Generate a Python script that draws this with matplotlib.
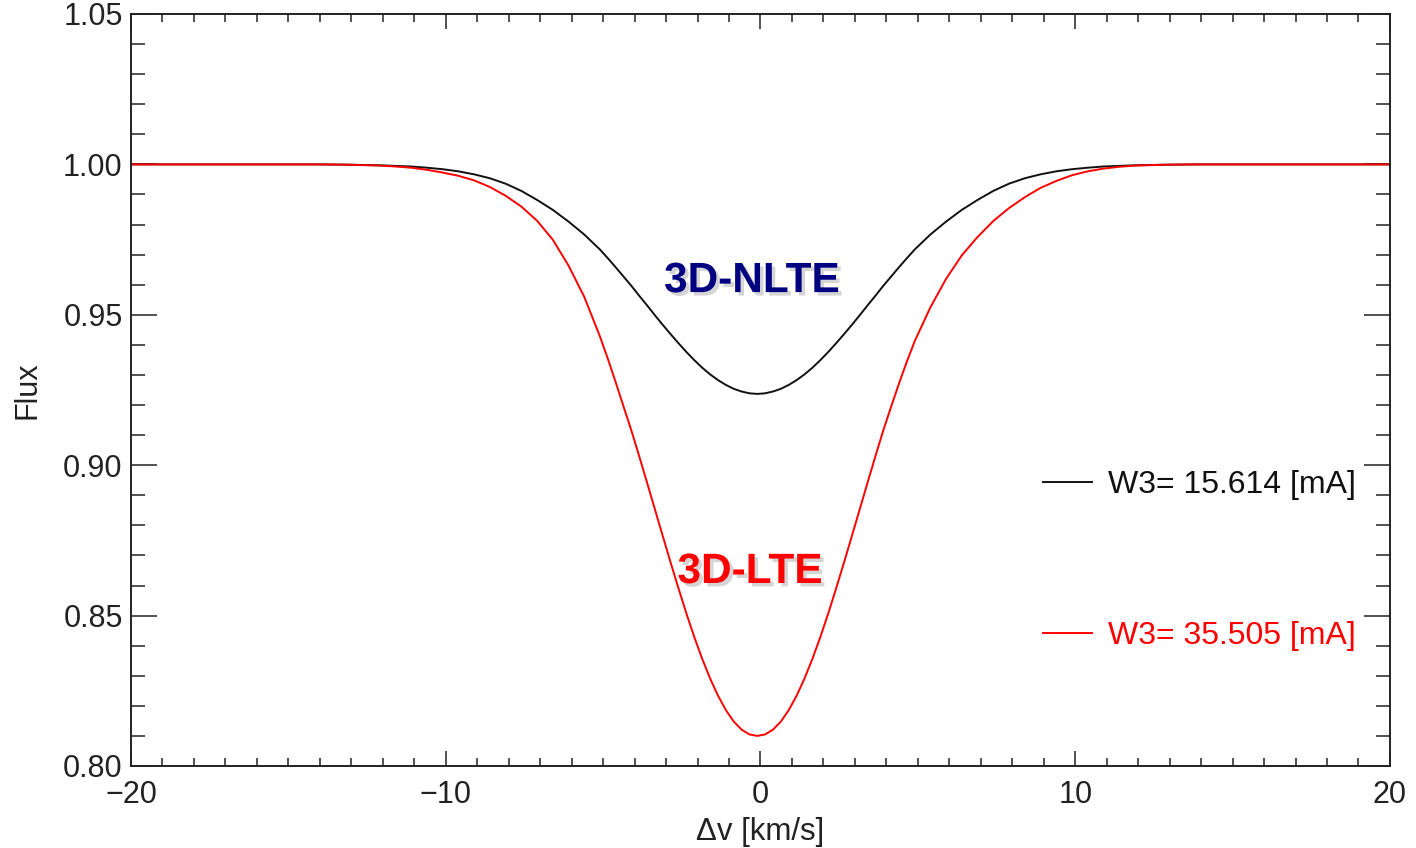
import numpy as np
import matplotlib.pyplot as plt
import matplotlib as mpl
import matplotlib.patheffects as pe

mpl.rcParams['font.family'] = ['Liberation Sans', 'DejaVu Sans']
mpl.rcParams['axes.unicode_minus'] = True

# velocity grid (km/s), line centre at about -0.1
dv = [-20, -14.1, -13.1, -12.1, -11.6, -11.1, -10.6, -10.1, -9.6, -9.1, -8.6, -8.1,
      -7.6, -7.1, -6.6, -6.1, -5.6, -5.1, -4.85, -4.6, -4.35, -4.1, -3.85, -3.6,
      -3.35, -3.1, -2.85, -2.6, -2.35, -2.1, -1.85, -1.6, -1.35, -1.1, -0.85, -0.6,
      -0.35, -0.1, 0.15, 0.4, 0.65, 0.9, 1.15, 1.4, 1.65, 1.9, 2.15, 2.4, 2.65, 2.9,
      3.15, 3.4, 3.65, 3.9, 4.15, 4.4, 4.65, 4.9, 5.4, 5.9, 6.4, 6.9, 7.4, 7.9, 8.4,
      8.9, 9.4, 9.9, 10.4, 10.9, 11.4, 11.9, 12.9, 13.9, 20]

# 3D-NLTE profile (black)
flux_nlte = [1.0, 1.0, 0.9999, 0.9997, 0.9995, 0.9993, 0.9989, 0.9984, 0.9977, 0.9967,
             0.9954, 0.9936, 0.9912, 0.9882, 0.9849, 0.9810, 0.9767, 0.9717, 0.9688,
             0.9658, 0.9627, 0.9596, 0.9563, 0.9531, 0.9498, 0.9466, 0.9435, 0.9405,
             0.9376, 0.9349, 0.9324, 0.9302, 0.9283, 0.9267, 0.9254, 0.9245, 0.9239,
             0.9237,
             0.9239, 0.9245, 0.9254, 0.9267, 0.9283, 0.9302, 0.9324, 0.9349, 0.9376,
             0.9405, 0.9435, 0.9466, 0.9498, 0.9531, 0.9563, 0.9596, 0.9627, 0.9658,
             0.9688, 0.9717, 0.9767, 0.9810, 0.9849, 0.9882, 0.9912, 0.9936, 0.9954,
             0.9967, 0.9977, 0.9984, 0.9989, 0.9993, 0.9995, 0.9997, 0.9999, 1.0, 1.0]

# 3D-LTE profile (red)
flux_lte = [1.0, 1.0, 0.9999, 0.9996, 0.9993, 0.9989, 0.9982, 0.9973, 0.9962, 0.9947,
            0.9925, 0.9896, 0.9860, 0.9813, 0.9750, 0.9664, 0.9560, 0.9428, 0.9354,
            0.9276, 0.9195, 0.9115, 0.9029, 0.8941, 0.8852, 0.8763, 0.8675, 0.8589,
            0.8506, 0.8428, 0.8356, 0.8291, 0.8234, 0.8186, 0.8148, 0.8121, 0.8105,
            0.8100,
            0.8105, 0.8121, 0.8148, 0.8186, 0.8234, 0.8291, 0.8356, 0.8428, 0.8506,
            0.8589, 0.8675, 0.8763, 0.8852, 0.8941, 0.9029, 0.9115, 0.9194, 0.9271,
            0.9344, 0.9412, 0.9525, 0.9620, 0.9698, 0.9759, 0.9812, 0.9855, 0.9891,
            0.9922, 0.9945, 0.9964, 0.9977, 0.9986, 0.9992, 0.9996, 0.9999, 1.0, 1.0]

W3_nlte = 15.614
W3_lte = 35.505

fig = plt.figure(figsize=(14.16, 8.48), dpi=100)
ax = fig.add_axes([0.0925, 0.0967, 0.8891, 0.8868])

l1, = ax.plot(dv, flux_nlte, color='#111111', lw=1.4, label='W3= %.3f [mA]' % W3_nlte)
l2, = ax.plot(dv, flux_lte, color='#ff0000', lw=1.4, label='W3= %.3f [mA]' % W3_lte)

ax.set_xlim(-20, 20)
ax.set_ylim(0.80, 1.05)
ax.set_xticks([-20, -10, 0, 10, 20])
ax.set_yticks([0.80, 0.85, 0.90, 0.95, 1.00, 1.05])
ax.set_yticklabels(['%.2f' % t for t in [0.80, 0.85, 0.90, 0.95, 1.00, 1.05]])
ax.xaxis.set_minor_locator(mpl.ticker.MultipleLocator(1))
ax.yaxis.set_minor_locator(mpl.ticker.MultipleLocator(0.01))
ax.tick_params(which='both', direction='in', top=True, right=True,
               width=1.1, color='#222222', labelsize=22, labelcolor='#222222')
ax.tick_params(axis='x', which='major', length=11, pad=10)
ax.tick_params(axis='x', which='minor', length=6)
ax.tick_params(axis='y', which='major', length=19, pad=6)
ax.tick_params(axis='y', which='minor', length=10)
for s in ax.spines.values():
    s.set_linewidth(1.4)
    s.set_color('#222222')

ax.set_xlabel('Δv [km/s]', fontsize=22.5, color='#222222', labelpad=5)
ax.set_ylabel('Flux', fontsize=22, color='#222222', labelpad=15)

shadow = [pe.SimplePatchShadow(offset=(2.5, -2.5), shadow_rgbFace='#888888', alpha=0.35),
          pe.Normal()]
ax.text(-0.27, 0.9612, '3D-NLTE', color='#000080', fontsize=30.5, fontweight='bold',
        ha='center', va='center', path_effects=shadow)
ax.text(-0.33, 0.8645, '3D-LTE', color='#ff0000', fontsize=30.5, fontweight='bold',
        ha='center', va='center', path_effects=shadow)

ax.legend(handles=[l1, l2], loc='center left', bbox_to_anchor=(0.7244, 0.2735),
          frameon=False, fontsize=23, labelcolor='linecolor', handlelength=1.55,
          handletextpad=0.47, labelspacing=3.78, borderpad=0, borderaxespad=0)

plt.savefig('out.png', dpi=100)
